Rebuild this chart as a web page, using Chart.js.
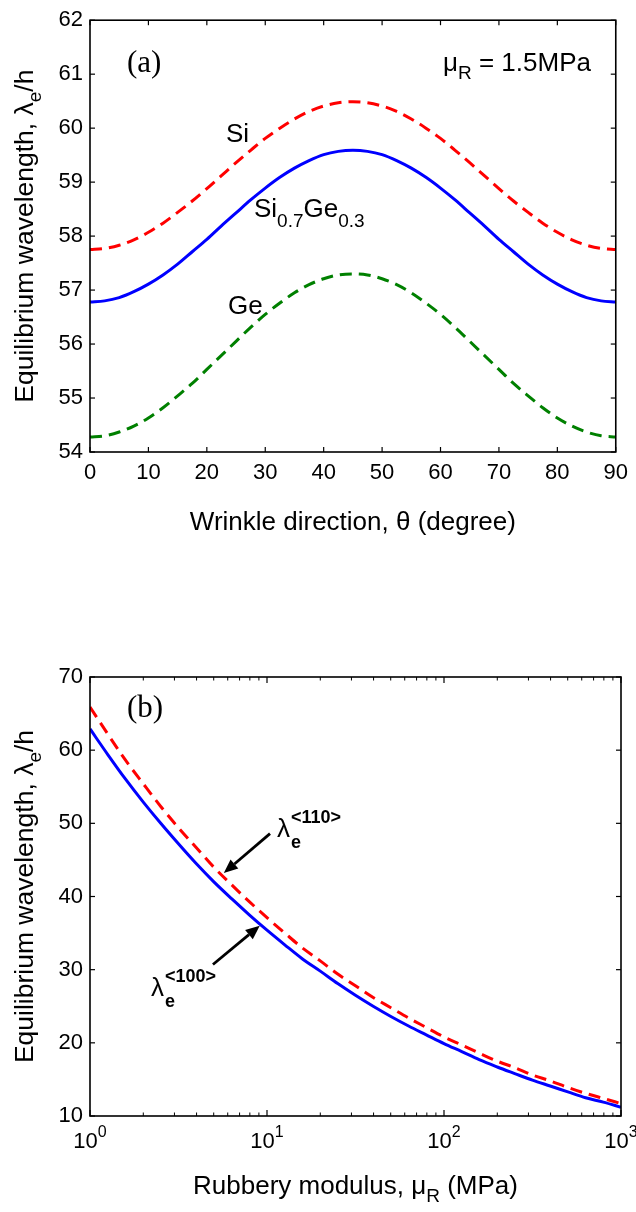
<!DOCTYPE html>
<html><head><meta charset="utf-8">
<script src="https://cdn.jsdelivr.net/npm/chart.js@4/dist/chart.umd.min.js"></script>
<style>
html,body{margin:0;padding:0;background:#fff;}
#wrap{position:relative;width:636px;height:1212px;overflow:hidden;}
canvas{position:absolute;left:0;}
#ca{top:0;width:636px;height:600px;}
#cb{top:600px;width:636px;height:612px;}
</style></head><body>
<div id="wrap"><canvas id="ca" width="636" height="600"></canvas><canvas id="cb" width="636" height="612"></canvas></div>
<script>
// ---------- Panel (a) data: wrinkle direction (deg) vs equilibrium wavelength ----------
const thetaDeg   = [0,2.5,5,7.5,10,12.5,15,17.5,20,22.5,25,27.5,30,32.5,35,37.5,40,42.5,45,47.5,50,52.5,55,57.5,60,62.5,65,67.5,70,72.5,75,77.5,80,82.5,85,87.5,90];
const lambdaSi   = [57.75,57.77,57.83,57.93,58.07,58.24,58.44,58.65,58.88,59.12,59.36,59.59,59.81,60.00,60.17,60.31,60.41,60.47,60.49,60.47,60.41,60.31,60.17,60.00,59.81,59.59,59.36,59.12,58.88,58.65,58.44,58.24,58.07,57.93,57.83,57.77,57.75];
const lambdaSiGe = [56.78,56.80,56.86,56.97,57.11,57.28,57.48,57.71,57.94,58.19,58.43,58.67,58.89,59.09,59.26,59.40,59.51,59.57,59.59,59.57,59.51,59.40,59.26,59.09,58.89,58.67,58.43,58.19,57.94,57.71,57.48,57.28,57.11,56.97,56.86,56.80,56.78];
const lambdaGe   = [54.28,54.30,54.37,54.48,54.63,54.82,55.04,55.27,55.53,55.79,56.05,56.31,56.55,56.76,56.95,57.10,57.21,57.28,57.30,57.28,57.21,57.10,56.95,56.76,56.55,56.31,56.05,55.79,55.53,55.27,55.04,54.82,54.63,54.48,54.37,54.30,54.28];
const xTicksA = [0,10,20,30,40,50,60,70,80,90];
const yTicksA = [54,55,56,57,58,59,60,61,62];

// ---------- Panel (b) data: rubbery modulus (MPa) vs equilibrium wavelength ----------
const muR       = [1,1.26,1.58,2,2.51,3.16,3.98,5.01,6.31,7.94,10,12.6,15.8,20,25.1,31.6,39.8,50.1,63.1,79.4,100,126,158,200,251,316,398,501,631,794,1000];
const lambda100 = [62.9,59.4,56.1,52.9,50.0,47.2,44.5,42.0,39.7,37.5,35.4,33.4,31.5,29.8,28.1,26.5,25.0,23.6,22.3,21.1,19.9,18.8,17.7,16.7,15.8,14.9,14.1,13.3,12.5,11.9,11.2];
const lambda110 = [65.9,62.2,58.7,55.4,52.3,49.4,46.7,44.0,41.6,39.3,37.1,35.0,33.0,31.2,29.4,27.8,26.2,24.8,23.4,22.1,20.8,19.7,18.6,17.5,16.6,15.6,14.8,13.9,13.1,12.4,11.7];
const xMajorB = [1,10,100,1000];
const xMajorExpB = ['0','1','2','3'];
const xMinorB = [2,3,4,5,6,7,8,9,20,30,40,50,60,70,80,90,200,300,400,500,600,700,800,900];
const yTicksB = [10,20,30,40,50,60,70];

const SANS = "'Liberation Sans', Arial, sans-serif";
const SERIF = "'Liberation Serif', 'Times New Roman', serif";
function fnt(s, b, f){ return (b ? 'bold ' : '') + s + 'px ' + (f || SANS); }
function rich(ctx, x, y, parts, align, rot){
  ctx.save();
  ctx.translate(x, y);
  if (rot) ctx.rotate(rot);
  let w = 0;
  const ws = parts.map(p => { ctx.font = fnt(p.s, p.b, p.f); const m = ctx.measureText(p.t).width; w += m; return m; });
  let cx = align === 'center' ? -w/2 : (align === 'right' ? -w : 0);
  ctx.fillStyle = '#000'; ctx.textBaseline = 'alphabetic'; ctx.textAlign = 'left';
  parts.forEach((p, i) => { ctx.font = fnt(p.s, p.b, p.f); ctx.fillText(p.t, cx, p.dy || 0); cx += ws[i]; });
  ctx.restore();
  return w;
}
function seg(ctx, x1, y1, x2, y2){ ctx.beginPath(); ctx.moveTo(x1, y1); ctx.lineTo(x2, y2); ctx.stroke(); }
function arrow(ctx, x1, y1, x2, y2){
  const ang = Math.atan2(y2 - y1, x2 - x1), L = 14, W = 6;
  const bx = x2 - L*Math.cos(ang), by = y2 - L*Math.sin(ang);
  ctx.save(); ctx.strokeStyle = '#000'; ctx.fillStyle = '#000'; ctx.lineWidth = 2.8;
  seg(ctx, x1, y1, bx, by);
  ctx.beginPath(); ctx.moveTo(x2, y2);
  ctx.lineTo(bx + W*Math.sin(ang), by - W*Math.cos(ang));
  ctx.lineTo(bx - W*Math.sin(ang), by + W*Math.cos(ang));
  ctx.closePath(); ctx.fill(); ctx.restore();
}
function frame(ctx, a){
  ctx.save(); ctx.strokeStyle = '#000'; ctx.lineWidth = 1.6;
  ctx.strokeRect(a.left, a.top, a.right - a.left, a.bottom - a.top);
  ctx.restore();
}
const tickFont = { family: SANS, size: 22 };
function pts(xs, ys){ return xs.map((x, i) => ({ x: x, y: ys[i] })); }

// ---------- Chart (a) ----------
const plugA = {
  id: 'decorA',
  afterDraw(chart){
    const { ctx, chartArea: a, scales: { x, y } } = chart;
    frame(ctx, a);
    ctx.save(); ctx.strokeStyle = '#000'; ctx.lineWidth = 1.2;
    xTicksA.forEach(v => { const p = x.getPixelForValue(v); seg(ctx, p, a.bottom, p, a.bottom - 5); seg(ctx, p, a.top, p, a.top + 5); });
    yTicksA.forEach(v => { const p = y.getPixelForValue(v); seg(ctx, a.left, p, a.left + 5, p); seg(ctx, a.right, p, a.right - 5, p); });
    ctx.restore();
    rich(ctx, 33, (a.top + a.bottom)/2, [{t:'Equilibrium wavelength, λ', s:26.5},{t:'e', s:19, dy:8},{t:'/h', s:26.5}], 'center', -Math.PI/2);
    rich(ctx, (a.left + a.right)/2, 530, [{t:'Wrinkle direction, θ (degree)', s:26}], 'center');
    rich(ctx, 127, 72, [{t:'(a)', s:31, f:SERIF}]);
    rich(ctx, 443, 71, [{t:'μ', s:26},{t:'R', s:19, dy:8},{t:' = 1.5MPa', s:26}]);
    rich(ctx, 226, 142, [{t:'Si', s:26}]);
    rich(ctx, 254, 217, [{t:'Si', s:26},{t:'0.7', s:19, dy:10},{t:'Ge', s:26},{t:'0.3', s:19, dy:10}]);
    rich(ctx, 228, 314, [{t:'Ge', s:26}]);
  }
};

new Chart(document.getElementById('ca'), {
  type: 'line',
  data: { datasets: [
    { label: 'Si', data: pts(thetaDeg, lambdaSi), borderColor: '#ff0000', borderDash: [12, 7], borderWidth: 3, pointRadius: 0, cubicInterpolationMode: 'monotone', fill: false },
    { label: 'Si0.7Ge0.3', data: pts(thetaDeg, lambdaSiGe), borderColor: '#0000ff', borderWidth: 3, pointRadius: 0, cubicInterpolationMode: 'monotone', fill: false },
    { label: 'Ge', data: pts(thetaDeg, lambdaGe), borderColor: '#008000', borderDash: [12, 7], borderWidth: 3, pointRadius: 0, cubicInterpolationMode: 'monotone', fill: false }
  ]},
  options: {
    responsive: false, animation: false, devicePixelRatio: 1,
    layout: { padding: { top: 15, right: 16, left: 0, bottom: 0 } },
    plugins: { legend: { display: false }, tooltip: { enabled: false } },
    scales: {
      x: { type: 'linear', min: 0, max: 90,
           afterBuildTicks: s => { s.ticks = xTicksA.map(v => ({ value: v })); },
           ticks: { font: tickFont, color: '#000', padding: 8, maxRotation: 0, autoSkip: false },
           grid: { display: false, drawTicks: false }, border: { display: false },
           afterFit: s => { s.height = 148; } },
      y: { type: 'linear', min: 54, max: 62,
           afterBuildTicks: s => { s.ticks = yTicksA.map(v => ({ value: v })); },
           ticks: { font: tickFont, color: '#000', padding: 7, autoSkip: false },
           grid: { display: false, drawTicks: false }, border: { display: false },
           afterFit: s => { s.width = 90; } }
    }
  },
  plugins: [plugA]
});

// ---------- Chart (b) ----------
const plugB = {
  id: 'decorB',
  afterDraw(chart){
    const { ctx, chartArea: a, scales: { x, y } } = chart;
    frame(ctx, a);
    ctx.save(); ctx.strokeStyle = '#000'; ctx.lineWidth = 1.2;
    xMajorB.forEach(v => { const p = x.getPixelForValue(v); seg(ctx, p, a.bottom, p, a.bottom - 6); seg(ctx, p, a.top, p, a.top + 6); });
    ctx.lineWidth = 1;
    xMinorB.forEach(v => { const p = x.getPixelForValue(v); seg(ctx, p, a.bottom, p, a.bottom - 3.5); seg(ctx, p, a.top, p, a.top + 3.5); });
    ctx.lineWidth = 1.2;
    yTicksB.forEach(v => { const p = y.getPixelForValue(v); seg(ctx, a.left, p, a.left + 5, p); seg(ctx, a.right, p, a.right - 5, p); });
    ctx.restore();
    xMajorB.forEach((v, i) => {
      const p = x.getPixelForValue(v);
      rich(ctx, p, 548, [{t:'10', s:22},{t:xMajorExpB[i], s:16, dy:-11}], 'center');
    });
    rich(ctx, 33, (a.top + a.bottom)/2, [{t:'Equilibrium wavelength, λ', s:26.5},{t:'e', s:19, dy:8},{t:'/h', s:26.5}], 'center', -Math.PI/2);
    rich(ctx, (a.left + a.right)/2, 594, [{t:'Rubbery modulus, μ', s:26},{t:'R', s:19, dy:8},{t:' (MPa)', s:26}], 'center');
    rich(ctx, 127, 117, [{t:'(b)', s:31, f:SERIF}]);
    arrow(ctx, x.getPixelForValue(10.4), y.getPixelForValue(48.6), x.getPixelForValue(5.7), y.getPixelForValue(43.2));
    arrow(ctx, x.getPixelForValue(4.95), y.getPixelForValue(30.7), x.getPixelForValue(9.1), y.getPixelForValue(36.0));
    const lab = (lx, lb, sup) => {
      const w = rich(ctx, lx, lb, [{t:'λ', s:26}]);
      rich(ctx, lx + w + 1, lb - 14, [{t:sup, s:18, b:true}]);
      rich(ctx, lx + w + 1, lb + 11, [{t:'e', s:18, b:true}]);
    };
    lab(277, 237, '<110>');
    lab(151, 396, '<100>');
  }
};

new Chart(document.getElementById('cb'), {
  type: 'line',
  data: { datasets: [
    { label: '<110>', data: pts(muR, lambda110), borderColor: '#ff0000', borderDash: [12, 7], borderWidth: 3, pointRadius: 0, cubicInterpolationMode: 'monotone', fill: false },
    { label: '<100>', data: pts(muR, lambda100), borderColor: '#0000ff', borderWidth: 3, pointRadius: 0, cubicInterpolationMode: 'monotone', fill: false }
  ]},
  options: {
    responsive: false, animation: false, devicePixelRatio: 1,
    layout: { padding: { top: 77, right: 15, left: 0, bottom: 0 } },
    plugins: { legend: { display: false }, tooltip: { enabled: false } },
    scales: {
      x: { type: 'logarithmic', min: 1, max: 1000,
           ticks: { display: false },
           grid: { display: false, drawTicks: false }, border: { display: false },
           afterFit: s => { s.height = 96; } },
      y: { type: 'linear', min: 10, max: 70,
           afterBuildTicks: s => { s.ticks = yTicksB.map(v => ({ value: v })); },
           ticks: { font: tickFont, color: '#000', padding: 7, autoSkip: false },
           grid: { display: false, drawTicks: false }, border: { display: false },
           afterFit: s => { s.width = 90; } }
    }
  },
  plugins: [plugB]
});
</script>
</body></html>
